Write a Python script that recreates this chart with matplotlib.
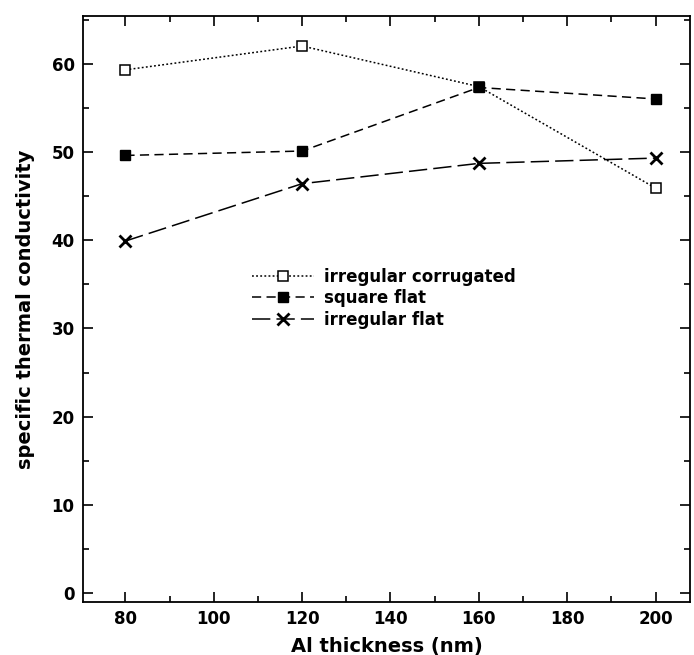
import matplotlib
matplotlib.use("Agg")
import matplotlib.pyplot as plt
from matplotlib.ticker import MultipleLocator

plt.rcParams['font.family'] = ['DejaVu Sans']
plt.rcParams['font.weight'] = 'bold'

thickness = [80, 120, 160, 200]
irregular_corrugated = [59.3, 62.0, 57.4, 45.9]
square_flat = [49.6, 50.1, 57.3, 56.0]
irregular_flat = [39.9, 46.4, 48.7, 49.3]

fig = plt.figure(figsize=(6.94, 6.55), dpi=100)
ax = fig.add_axes([83 / 694, 1 - 602 / 655, (690 - 83) / 694, (602 - 16) / 655])

ax.plot(thickness, irregular_corrugated, color='black', lw=1.1, linestyle=(0, (1.2, 1.5)),
        marker='s', markersize=7, markerfacecolor='white', markeredgecolor='black',
        markeredgewidth=1.1, label='irregular corrugated')
ax.plot(thickness, square_flat, color='black', lw=1.1, linestyle=(0, (6, 3.5)),
        marker='s', markersize=7, markerfacecolor='black', markeredgecolor='black',
        label='square flat')
ax.plot(thickness, irregular_flat, color='black', lw=1.1, linestyle=(0, (12, 4)),
        marker='x', markersize=8, markeredgewidth=2, label='irregular flat')

ax.set_xlim(70.4, 207.8)
ax.set_ylim(-1.0, 65.4)
ax.xaxis.set_major_locator(MultipleLocator(20))
ax.xaxis.set_minor_locator(MultipleLocator(10))
ax.yaxis.set_major_locator(MultipleLocator(10))
ax.yaxis.set_minor_locator(MultipleLocator(5))
ax.tick_params(which='both', direction='in', top=True, right=True, width=1.2)
ax.tick_params(which='major', length=7, labelsize=12, pad=6)
ax.tick_params(which='minor', length=4)
for sp in ax.spines.values():
    sp.set_linewidth(1.3)

ax.set_xlabel('Al thickness (nm)', fontsize=14, fontweight='bold', labelpad=6)
ax.set_ylabel('specific thermal conductivity', fontsize=14, fontweight='bold', labelpad=12)

leg = ax.legend(loc='upper left', bbox_to_anchor=(0.26, 0.59), frameon=False,
                fontsize=12, handlelength=3.7, handletextpad=0.6, labelspacing=0.2,
                borderpad=0.2)

fig.savefig('out.png', dpi=100)
